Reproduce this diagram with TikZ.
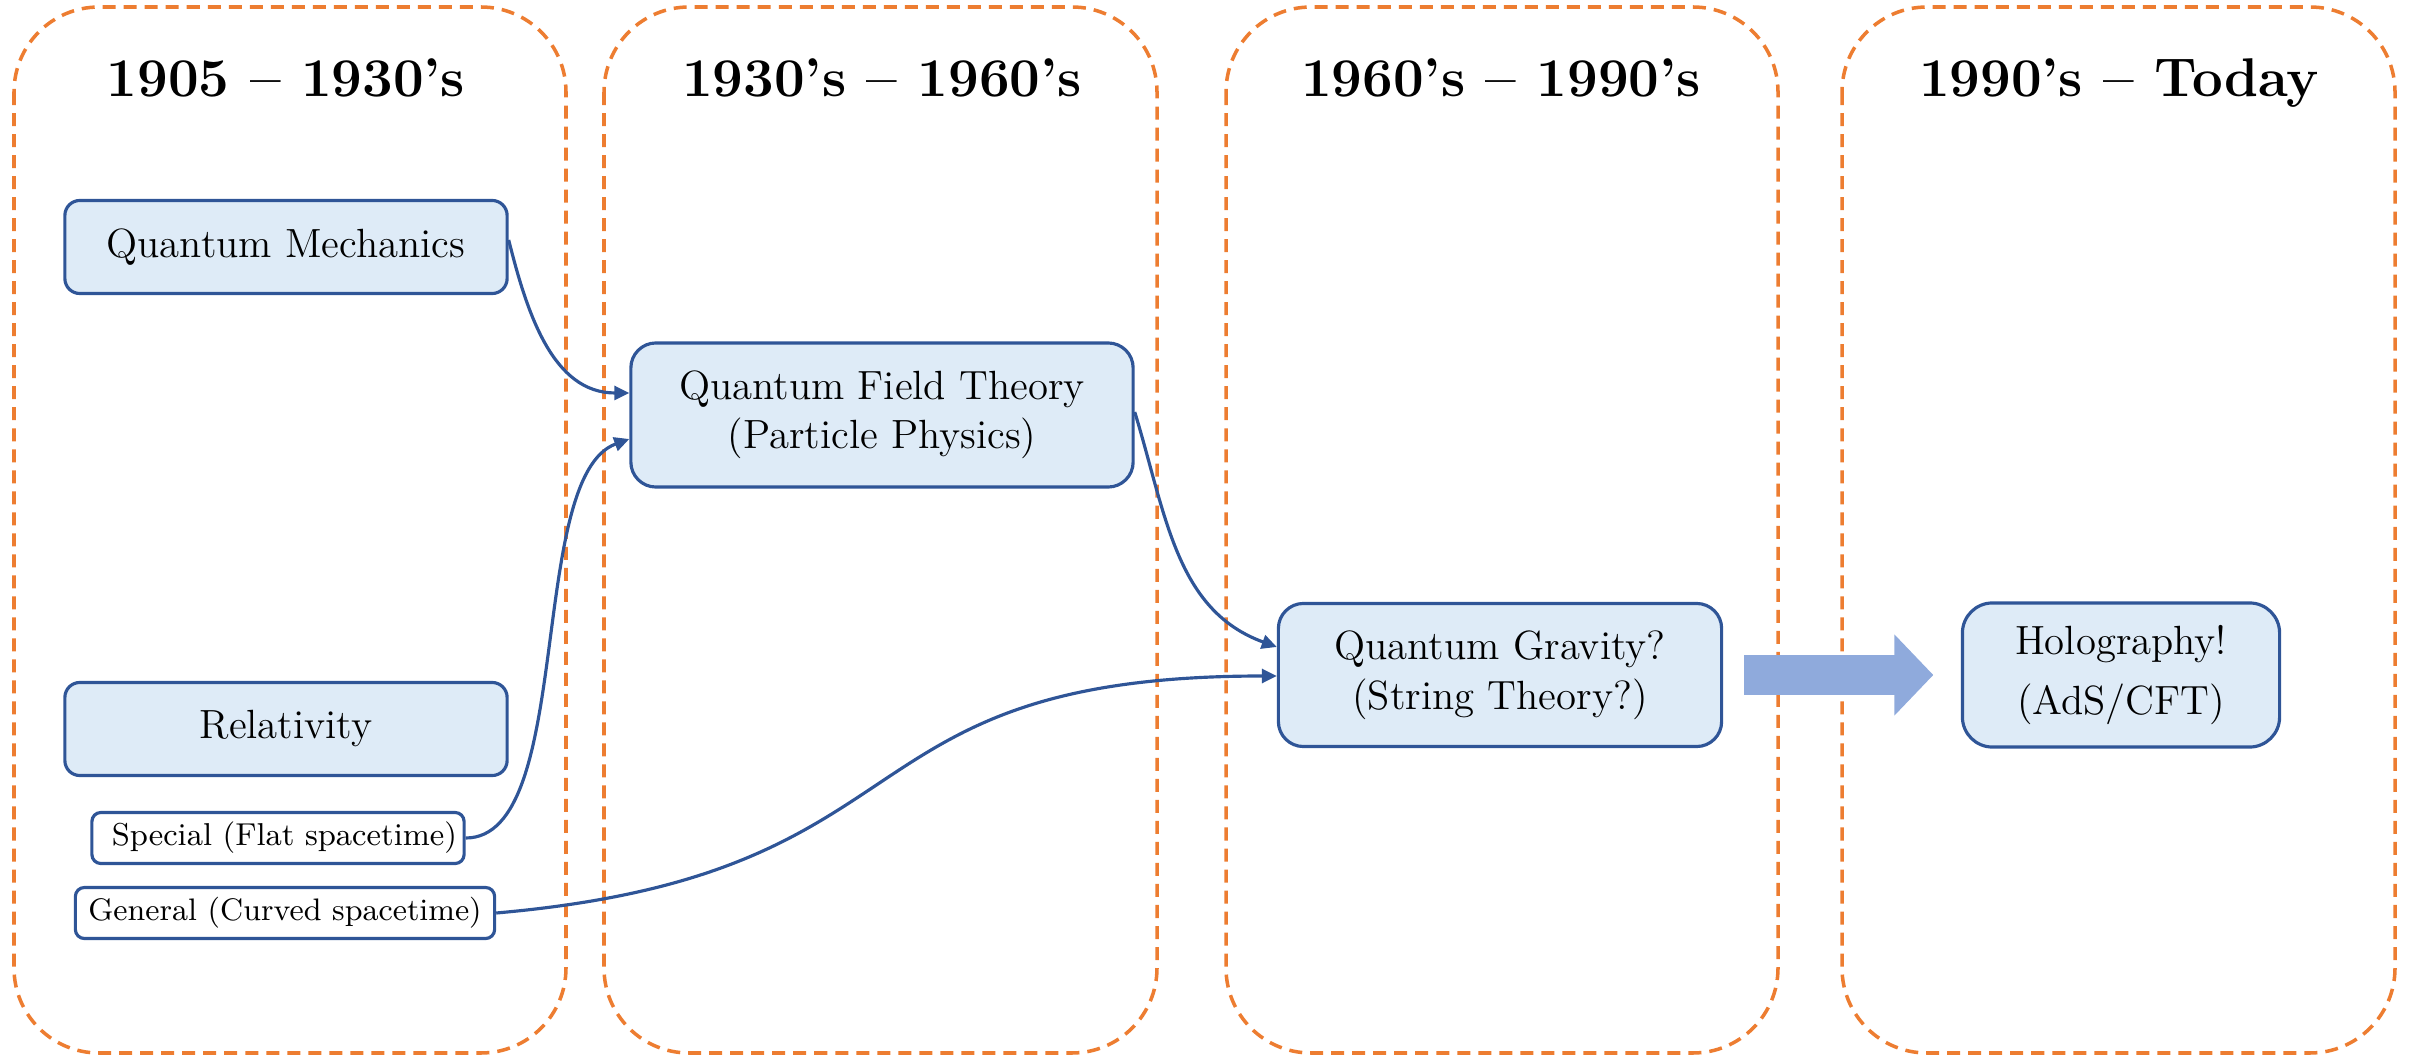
\documentclass[tikz,border=0pt]{standalone}
\usepackage{tikz}
\usetikzlibrary{arrows.meta,calc}
\definecolor{eraorange}{HTML}{ED7D31}
\definecolor{boxblue}{HTML}{2F5597}
\definecolor{boxfill}{HTML}{DEEBF7}
\definecolor{bigarrow}{HTML}{8FAADC}

\begin{document}
\begin{tikzpicture}[x=0.01cm,y=0.01cm,
  era/.style={draw=eraorange,line width=1pt,dash pattern=on 0.13cm off 0.08cm,rounded corners=0.85cm},
  title/.style={font=\fontsize{15.5}{18}\selectfont\bfseries,anchor=base},
  topic/.style={draw=boxblue,line width=0.9pt,fill=boxfill,rounded corners=#1,align=center,inner sep=0pt,
    font=\fontsize{11.6}{14}\selectfont},
  topic/.default=0.15cm,
  sub/.style={draw=boxblue,line width=0.9pt,fill=white,rounded corners=0.09cm,minimum height=0.51cm,
    inner ysep=0pt,font=\fontsize{9}{11}\selectfont},
  link/.style={boxblue,line width=0.9pt,-{Triangle[length=0.15cm,width=0.14cm]}}]
\useasboundingbox (0,0) rectangle (2415,-1055);
% eras
\draw[era] (14,-7) rectangle (566,-1053);
\draw[era] (604,-7) rectangle (1157,-1053);
\draw[era] (1226,-7) rectangle (1778,-1053);
\draw[era] (1842,-7) rectangle (2395,-1053);
\node[title] (t1) at (286,-97) {1905 -- 1930's};
\node[title] (t2) at (882,-97) {1930's -- 1960's};
\node[title] (t3) at (1501,-97) {1960's -- 1990's};
\node[title] (t4) at (2119,-97) {1990's -- Today};
% topics
\node[topic,minimum width=4.42cm,minimum height=0.93cm] (qm) at (286,-247) {Quantum Mechanics};
\node[topic,minimum width=4.42cm,minimum height=0.93cm] (rel) at (286,-729) {Relativity};
\node[sub,text width=3.58cm,align=right,inner xsep=0.07cm] (sr) at (278,-838) {Special (Flat spacetime)};
\node[sub,minimum width=4.19cm,font=\fontsize{8.85}{11}\selectfont] (gr) at (285,-913) {General (Curved spacetime)};
\node[topic=0.25cm,minimum width=5.02cm,minimum height=1.44cm] (qft) at (882,-415) {Quantum Field Theory\\(Particle Physics)};
\node[topic=0.25cm,minimum width=4.43cm,minimum height=1.43cm] (qg) at (1500,-675) {Quantum Gravity?\\[0.2pt](String Theory?)};
\node[topic=0.3cm,minimum width=3.17cm,minimum height=1.44cm] (holo) at (2121,-675) {Holography!\\[3pt](AdS/CFT)};
% links
\draw[link] ([yshift=0.07cm]qm.east) to[out=-76,in=180] ([yshift=0.22cm]qft.west);
\draw[link] (sr.east) to[out=0,in=200,looseness=0.65] ([yshift=-0.24cm]qft.west);
\draw[link] ([yshift=0.03cm]qft.east) to[out=-73,in=160] ([yshift=0.28cm]qg.west);
\draw[link] (gr.east) to[out=5,in=180,looseness=1.4] ([yshift=-0.01cm]qg.west);
\draw[bigarrow,line width=0.39cm,-{Triangle[length=0.39cm,width=0.79cm]}]
  ([xshift=0.21cm]qg.east) -- ([xshift=-0.275cm]holo.west);
\end{tikzpicture}
\end{document}
